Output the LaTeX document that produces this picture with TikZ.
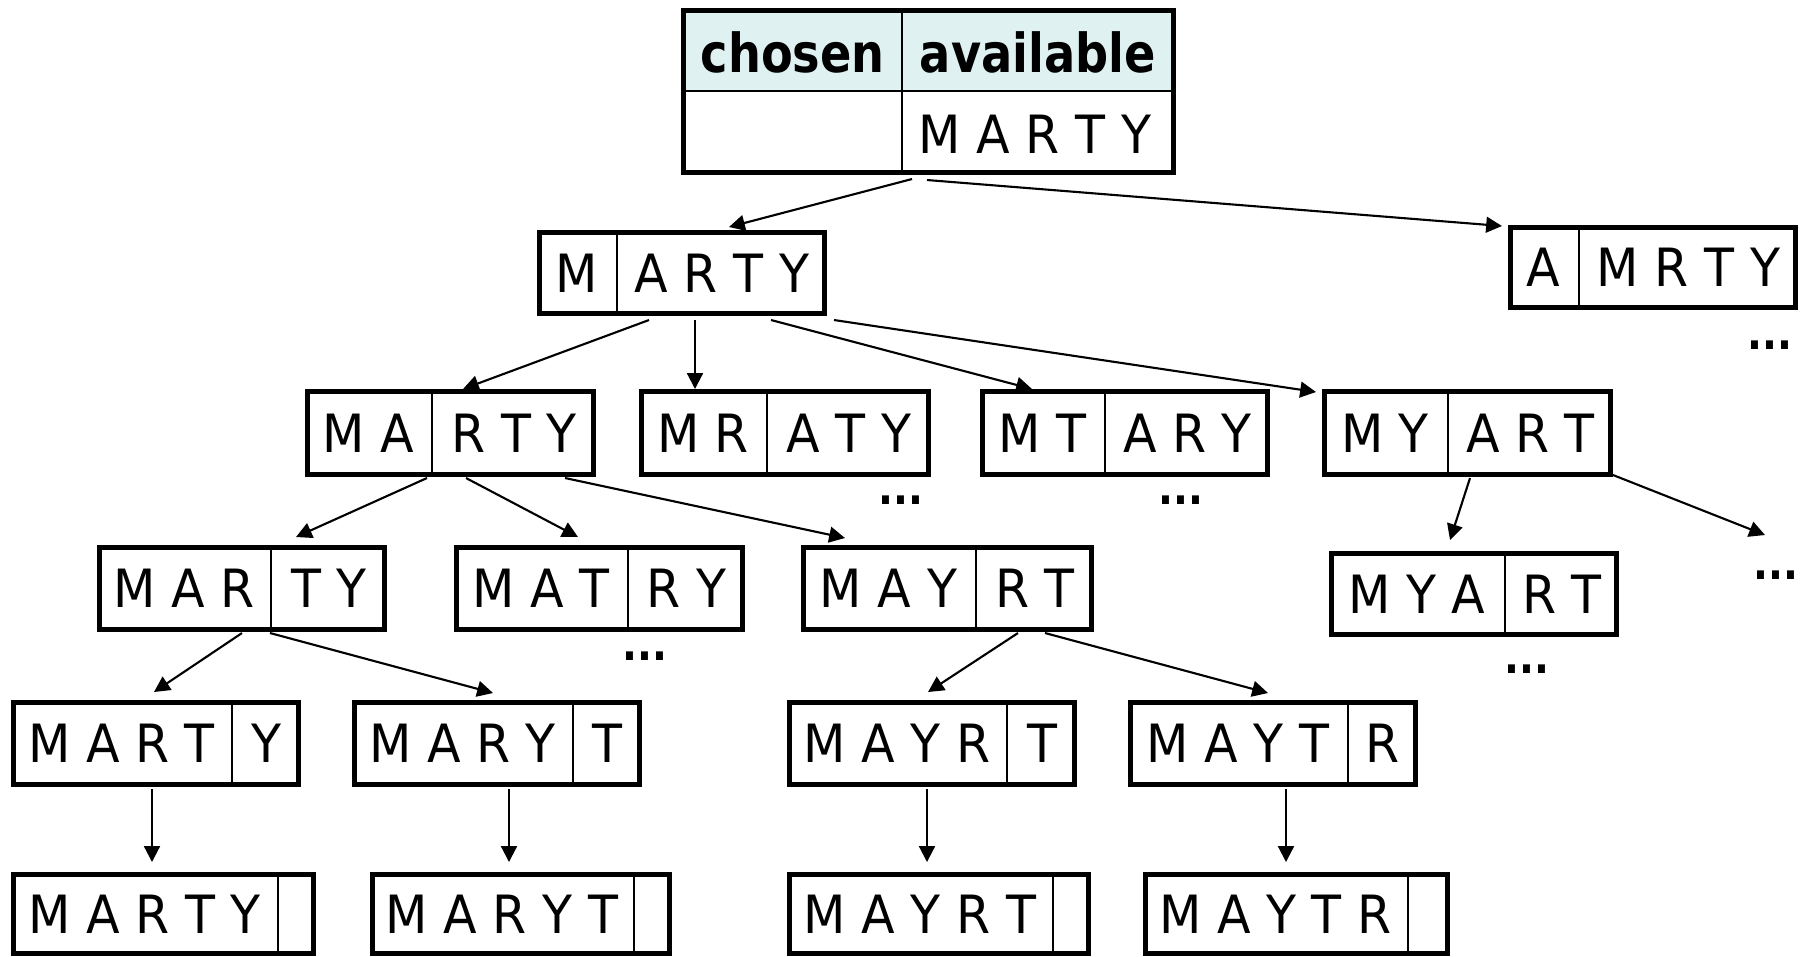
\documentclass[tikz,border=0pt]{standalone}
\usepackage{fontspec}
\usetikzlibrary{arrows.meta,calc,fit}

\newfontfamily\permfont[FakeStretch=0.93]{DejaVu Sans}
\newfontfamily\headfont[FakeStretch=0.86]{DejaVu Sans}
\definecolor{headfill}{RGB}{223,241,241}

\tikzset{
  cellbox/.style={draw, line width=1.42pt, inner sep=0pt, outer sep=0pt},
  cellrule/.style={line width=0.6pt},
  letters/.style={inner sep=0pt, font=\permfont\fontsize{15}{18}\selectfont},
  headtext/.style={inner sep=0pt, font=\headfont\bfseries\fontsize{15.3}{18}\selectfont},
  moredots/.style={inner sep=0pt, font=\headfont\bfseries\fontsize{13}{15}\selectfont},
  arr/.style={line width=0.6pt, -{Triangle[length=4.5pt,width=4.5pt]}},
}

% #1 name, #2 left, #3 top, #4 right, #5 bottom (outer edges),
% #6 x of the divider, #7 chosen letters, #8 available letters
\newcommand\permbox[8]{%
  \node[cellbox, fit={({#2+2.5},{#3+2.5}) ({#4-2.5},{#5-2.5})}] (#1) {};
  \draw[cellrule] ({#6},{#3+2.5}) -- ({#6},{#5-2.5});
  \node[letters] (#1-c) at ({(#2+#6)/2},{(#3+#5)/2}) {#7};
  \node[letters] (#1-a) at ({(#6+#4)/2},{(#3+#5)/2}) {#8};
}

\begin{document}
\begin{tikzpicture}[x=0.01cm, y=-0.01cm]
\useasboundingbox (0,0) rectangle (1803,956);

% root table
\fill[headfill] (683.5,10.5) rectangle (1173.5,91);
\node[cellbox, fit={(683.5,10.5) (1173.5,172.5)}] (tbl) {};
\draw[cellrule] (683.5,91) -- (1173.5,91);
\draw[cellrule] (902,10.5) -- (902,172.5);
\node[headtext] (tbl-h1) at (792.75,52) {chosen};
\node[headtext] (tbl-h2) at (1037.75,52) {available};
\node[letters] (tbl-a) at (1035,134) {M A R T Y};

% level 1
\permbox{m}{537}{230}{827}{316}{617}{M}{A R T Y}
\permbox{a}{1508}{225}{1798}{310}{1579}{A}{M R T Y}

% level 2
\permbox{ma}{305}{389}{596}{477}{432}{M A}{R T Y}
\permbox{mr}{639}{389}{931}{477}{767}{M R}{A T Y}
\permbox{mt}{980}{389}{1270}{477}{1105}{M T}{A R Y}
\permbox{my}{1322}{389}{1613}{477}{1448}{M Y}{A R T}

% level 3
\permbox{mar}{97}{545}{387}{632}{271}{M A R}{T Y}
\permbox{mat}{454}{545}{745}{632}{628}{M A T}{R Y}
\permbox{may}{801}{545}{1094}{632}{976}{M A Y}{R T}
\permbox{mya}{1329}{551}{1619}{637}{1505}{M Y A}{R T}

% level 4
\permbox{mart}{11}{700}{301}{787}{232}{M A R T}{Y}
\permbox{mary}{352}{700}{642}{787}{573}{M A R Y}{T}
\permbox{mayr}{787}{700}{1077}{787}{1007}{M A Y R}{T}
\permbox{mayt}{1128}{700}{1418}{787}{1348}{M A Y T}{R}

% level 5
\permbox{marty}{11}{872}{316}{956}{278}{M A R T Y}{}
\permbox{maryt}{370}{872}{672}{956}{634}{M A R Y T}{}
\permbox{mayrt}{787}{872}{1091}{956}{1053}{M A Y R T}{}
\permbox{maytr}{1143}{872}{1450}{956}{1408}{M A Y T R}{}

% elided branches
\node[moredots] (d-a)   at (1770,345) {...};
\node[moredots] (d-mr)  at (901,500)  {...};
\node[moredots] (d-mt)  at (1181,500) {...};
\node[moredots] (d-mat) at (645,656)  {...};
\node[moredots] (d-my)  at (1776,575) {...};
\node[moredots] (d-mya) at (1527,669) {...};
\coordinate (myrest) at (1765,535);

% connectors
\draw[arr] ($(tbl.south west)+(228.5,6.5)$) -- ($(m.north west)+(189.5,-5.5)$);
\draw[arr] ($(tbl.south west)+(243.5,7.5)$) -- ($(a.north west)+(-8.5,-1.5)$);

\draw[arr] ($(m.south west)+(109.5,6.5)$) -- ($(ma.north west)+(155.5,-2.5)$);
\draw[arr] ($(m.south west)+(155.5,6.5)$) -- ($(mr.north west)+(53.5,-2.5)$);
\draw[arr] ($(m.south west)+(231.5,6.5)$) -- ($(mt.north west)+(49.5,-2.5)$);
\draw[arr] ($(m.south west)+(294.5,6.5)$) -- ($(my.north west)+(-8.5,0.5)$);

\draw[arr] ($(ma.south west)+(119.5,3.5)$) -- ($(mar.north west)+(196.5,-10.5)$);
\draw[arr] ($(ma.south west)+(158.5,3.5)$) -- ($(mat.north west)+(121.5,-10.5)$);
\draw[arr] ($(ma.south west)+(257.5,3.5)$) -- ($(may.north west)+(41.5,-9.5)$);

\draw[arr] ($(my.south west)+(145.5,3.5)$) -- ($(mya.north west)+(118.5,-13.5)$);
\draw[arr] ($(my.south east)+(2.5,0.5)$) -- (myrest);

\draw[arr] ($(mar.south west)+(142.5,3.5)$) -- ($(mart.north west)+(140.5,-10.5)$);
\draw[arr] ($(mar.south west)+(170.5,3.5)$) -- ($(mary.north west)+(138.5,-9.5)$);
\draw[arr] ($(may.south west)+(214.5,3.5)$) -- ($(mayr.north west)+(138.5,-10.5)$);
\draw[arr] ($(may.south west)+(241.5,3.5)$) -- ($(mayt.north west)+(137.5,-9.5)$);

\draw[arr] ($(mart.south west)+(138.5,4.5)$) -- ($(marty.north west)+(138.5,-12.5)$);
\draw[arr] ($(mary.south west)+(154.5,4.5)$) -- ($(maryt.north west)+(136.5,-12.5)$);
\draw[arr] ($(mayr.south west)+(137.5,4.5)$) -- ($(mayrt.north west)+(137.5,-12.5)$);
\draw[arr] ($(mayt.south west)+(155.5,4.5)$) -- ($(maytr.north west)+(140.5,-12.5)$);
\end{tikzpicture}
\end{document}
